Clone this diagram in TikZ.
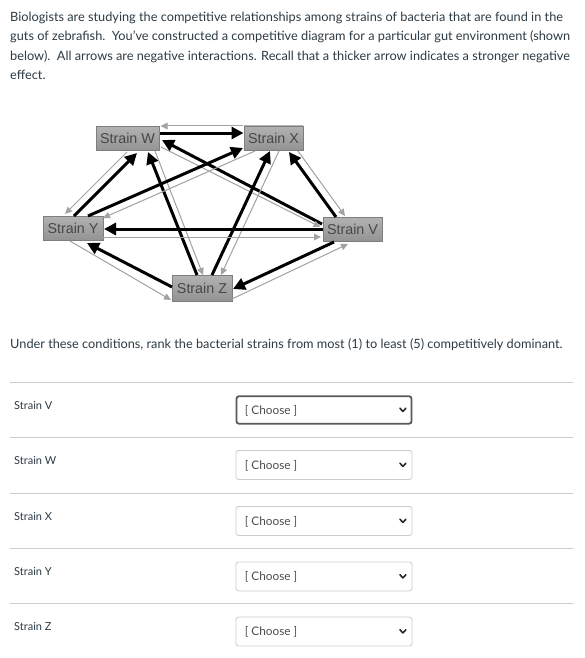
\documentclass[tikz,border=0pt]{standalone}
\usepackage{fontspec}
\setmainfont{Lato}
\newfontfamily\diagfont{Liberation Sans}
\usetikzlibrary{arrows.meta,calc}
\definecolor{txt}{HTML}{2D3B45}
\definecolor{rulegray}{HTML}{C7CDD1}
\definecolor{boxtop}{HTML}{B2B2B2}
\definecolor{boxbot}{HTML}{939393}
\definecolor{boxline}{HTML}{7E7E7E}
\definecolor{weakgray}{HTML}{A3A3A3}
\begin{document}
\begin{tikzpicture}[x=1pt,y=-1pt,
  body/.style={anchor=base west,inner sep=0pt,text=txt,font=\fontsize{12.75}{15}\selectfont},
  rowlabel/.style={anchor=base west,inner sep=0pt,text=txt,font=\fontsize{11}{13}\selectfont},
  strain/.style={draw=boxline,line width=0.8pt,top color=boxtop,bottom color=boxbot,
    minimum height=24pt,inner sep=0pt,text=black!72,font=\diagfont\fontsize{14.3}{16}\selectfont},
  strong/.style={line width=3pt,-{Triangle[length=12pt,width=12pt]},black},
  weak/.style={line width=1pt,-{Triangle[length=7pt,width=6.5pt]},draw=weakgray,fill=weakgray},
  hrule/.style={draw=rulegray,line width=1pt},
  choice/.style={draw=rulegray,line width=0.8pt,rounded corners=2.5pt,minimum width=176pt,minimum height=29pt,inner sep=0pt},
  choosetext/.style={anchor=base west,inner sep=0pt,text=black!70,font=\fontsize{11.8}{13}\selectfont},
  chev/.style={line width=1.6pt,black!85,line cap=round,line join=round}
]
\useasboundingbox[fill=white] (0,0) rectangle (585,658);

% intro text
\node[body] (t1) at (10,21.5) {Biologists are studying the competitive relationships among strains of bacteria that are found in the};
\node[body] (t2) at (10,41) {guts of zebrafish.\ \ You've constructed a competitive diagram for a particular gut environment (shown};
\node[body] (t3) at (10,61) {below).\ \ All arrows are negative interactions. Recall that a thicker arrow indicates a stronger negative};
\node[body] (t4) at (10,80) {effect.};

% diagram nodes
\node[strain,minimum width=63pt] (W) at (127.5,138.5) {Strain W};
\node[strain,minimum width=59pt] (X) at (273.5,138) {Strain X};
\node[strain,minimum width=60pt] (Y) at (73,228) {Strain Y};
\node[strain,minimum width=59pt] (V) at (352.5,229) {Strain V};
\node[strain,minimum width=60pt,minimum height=26pt] (Z) at (202,288) {Strain Z};

% arrows W-X
\draw[strong] ($(W)+(32.5,-5.5)$) -- ($(X)+(-30,-5)$);
\draw[weak] ($(X)+(-30.5,-12)$) -- ($(W)+(33,-12.5)$);
% W-Y
\draw[strong] ($(Y)+(1,-12)$) -- ($(W)+(9.5,14.5)$);
\draw[weak] ($(W)+(-0.5,13.5)$) -- ($(Y)+(-8,-14)$);
% W-Z
\draw[strong] ($(Z)+(-5,-13)$) -- ($(W)+(20.5,13.5)$);
\draw[weak] ($(W)+(27.5,12.5)$) -- ($(Z)+(1,-13)$);
% W-V
\draw[strong] ($(V)+(-30.5,-5)$) -- ($(W)+(34.5,1.5)$);
\draw[weak] ($(W)+(33.5,8.5)$) -- ($(V)+(-32,-2)$);
% X-Y
\draw[strong] ($(Y)+(15,-12)$) -- ($(X)+(-30.5,10)$);
\draw[weak] ($(X)+(-18.5,13)$) -- ($(Y)+(30,-10)$);
% X-Z
\draw[strong] ($(Z)+(10,-13)$) -- ($(X)+(-3.5,13)$);
\draw[weak] ($(X)+(5.5,13)$) -- ($(Z)+(19,-13)$);
% X-V
\draw[strong] ($(V)+(-16.5,-12)$) -- ($(X)+(15.5,14)$);
\draw[weak] ($(X)+(24.5,13)$) -- ($(V)+(-7.5,-13)$);
% Y-V
\draw[strong] ($(V)+(-29.5,0)$) -- ($(Y)+(31,1)$);
\draw[weak] ($(Y)+(30,9)$) -- ($(V)+(-31.5,8)$);
% Y-Z
\draw[strong] ($(Z)+(-30,-1)$) -- ($(Y)+(14,15)$);
\draw[weak] ($(Y)+(-3,13)$) -- ($(Z)+(-31,12)$);
% Z-V
\draw[strong] ($(V)+(-18.5,13)$) -- ($(Z)+(31,1)$);
\draw[weak] ($(Z)+(30,11)$) -- ($(V)+(-4.5,15)$);

% question
\node[body] (q) at (10,348) {Under these conditions, rank the bacterial strains from most (1) to least (5) competitively dominant.};

% rules
\coordinate (r1a) at (10,382.5); \coordinate (r1b) at (573,382.5);
\coordinate (r2a) at (10,437.5); \coordinate (r2b) at (573,437.5);
\coordinate (r3a) at (10,493); \coordinate (r3b) at (573,493);
\coordinate (r4a) at (10,548); \coordinate (r4b) at (573,548);
\coordinate (r5a) at (10,603); \coordinate (r5b) at (573,603);
\draw[hrule] (r1a) -- (r1b);
\draw[hrule] (r2a) -- (r2b);
\draw[hrule] (r3a) -- (r3b);
\draw[hrule] (r4a) -- (r4b);
\draw[hrule] (r5a) -- (r5b);

% row labels
\node[rowlabel] (lV) at (14,409) {Strain V};
\node[rowlabel] (lW) at (14,464) {Strain W};
\node[rowlabel] (lX) at (14,520) {Strain X};
\node[rowlabel] (lY) at (14,575) {Strain Y};
\node[rowlabel] (lZ) at (14,630) {Strain Z};

% dropdowns
\node[choice,draw=black!65,line width=1.8pt,minimum width=175pt,minimum height=27.5pt] (d1) at (324,410) {};
\node[choice] (d2) at (324,465) {};
\node[choice] (d3) at (324,521) {};
\node[choice] (d4) at (324,576.5) {};
\node[choice] (d5) at (324,631.5) {};
\foreach \d in {d1,d2,d3,d4,d5}{
  \node[choosetext] at ($(\d.west)+(9,4.2)$) {[ Choose ]};
  \draw[chev] ($(\d.east)+(-12.5,-1.8)$) -- ($(\d.east)+(-9.5,1.4)$) -- ($(\d.east)+(-6.5,-1.8)$);
}
\end{tikzpicture}
\end{document}
